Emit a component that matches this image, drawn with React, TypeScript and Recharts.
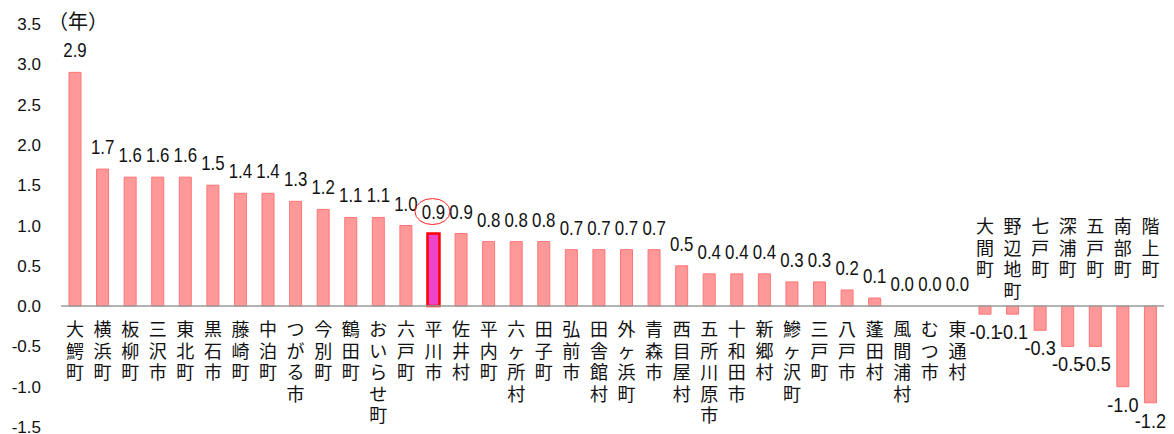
import { Bar, BarChart, Cell, LabelList, ReferenceLine, XAxis, YAxis } from 'recharts'

const towns = [
  '大鰐町', '横浜町', '板柳町', '三沢市', '東北町', '黒石市', '藤崎町', '中泊町', 'つがる市', '今別町',
  '鶴田町', 'おいらせ町', '六戸町', '平川市', '佐井村', '平内町', '六ヶ所村', '田子町', '弘前市', '田舎館村',
  '外ヶ浜町', '青森市', '西目屋村', '五所川原市', '十和田市', '新郷村', '鰺ヶ沢町', '三戸町', '八戸市', '蓬田村',
  '風間浦村', 'むつ市', '東通村', '大間町', '野辺地町', '七戸町', '深浦町', '五戸町', '南部町', '階上町',
]
const years = [
  2.9, 1.7, 1.6, 1.6, 1.6, 1.5, 1.4, 1.4, 1.3, 1.2,
  1.1, 1.1, 1.0, 0.9, 0.9, 0.8, 0.8, 0.8, 0.7, 0.7,
  0.7, 0.7, 0.5, 0.4, 0.4, 0.4, 0.3, 0.3, 0.2, 0.1,
  0.0, 0.0, 0.0, -0.1, -0.1, -0.3, -0.5, -0.5, -1.0, -1.2,
]
const yTicks = [-1.5, -1.0, -0.5, 0.0, 0.5, 1.0, 1.5, 2.0, 2.5, 3.0, 3.5]
const highlight = '平川市'

const data = towns.map((name, i) => ({ name, v: years[i] }))

const numFont = '"Liberation Sans", Arial, sans-serif'
const cjkFont = '"Noto Sans CJK JP", "Noto Sans", sans-serif'

type LblProps = { x?: number; y?: number; width?: number; height?: number; value?: number | string }

// zero line and far end of a bar, whatever sign recharts gives the height
function edges(p: LblProps, v: number) {
  const y = Number(p.y), h = Number(p.height)
  const top = Math.min(y, y + h)
  const bottom = Math.max(y, y + h)
  return v < 0 ? { zero: top, end: bottom } : { zero: bottom, end: top }
}

function ValueLabel(p: LblProps) {
  const v = Number(p.value)
  const cx = Number(p.x) + Number(p.width) / 2
  const e = edges(p, v)
  const base = v < 0 ? e.end + 25 : e.end - 15
  const s = v.toFixed(1)
  return (
    <text x={cx} y={base} textAnchor="middle" fontSize={21} fontFamily={numFont} fill="#111"
      textLength={s.length * 7.8} lengthAdjust="spacingAndGlyphs">
      {s}
    </text>
  )
}

function NameLabel(p: LblProps) {
  const name = String(p.value)
  const v = years[towns.indexOf(name)]
  const cx = Number(p.x) + Number(p.width) / 2
  const e = edges(p, v)
  const start = v < 0 ? e.zero - 73 : e.zero + 30
  return (
    <g>
      {name === highlight && (
        <ellipse cx={cx - 1} cy={e.end - 22} rx={17.5} ry={13} fill="none" stroke="#ff2020" strokeWidth={1} />
      )}
      {Array.from(name).map((c, k) => (
        <text key={k} x={cx} y={start + k * 21.5} textAnchor="middle" fontSize={18} fontFamily={cjkFont} fill="#111">
          {c}
        </text>
      ))}
    </g>
  )
}

export default function App() {
  return (
    <div style={{ position: 'absolute', left: 0, top: 0, width: 1174, height: 434, background: '#fff' }}>
      <div style={{ position: 'absolute', left: 48, top: 6, fontSize: 20, fontFamily: cjkFont, color: '#111' }}>（年）</div>
      <BarChart width={1174} height={434} data={data} margin={{ top: 24, right: 10, left: 6, bottom: 7 }} barSize={12}>
        <XAxis dataKey="name" hide />
        <YAxis
          domain={[-1.5, 3.5]}
          ticks={yTicks}
          interval={0}
          width={55}
          axisLine={false}
          tickLine={false}
          tickMargin={14}
          tickFormatter={(v: number) => v.toFixed(1)}
          tick={{ fill: '#111', fontSize: 17, fontFamily: numFont }}
        />
        <Bar dataKey="v" isAnimationActive={false} minPointSize={0.5}>
          {data.map((d, i) => (
            <Cell
              key={i}
              fill={d.v === 0 ? 'none' : d.name === highlight ? '#ee44cc' : '#ff9999'}
              stroke={d.v === 0 ? 'none' : d.name === highlight ? '#ff0000' : '#ff7575'}
              strokeWidth={d.name === highlight ? 2.5 : 1}
            />
          ))}
          <LabelList dataKey="v" content={(p) => <ValueLabel {...(p as LblProps)} />} />
          <LabelList dataKey="name" content={(p) => <NameLabel {...(p as LblProps)} />} />
        </Bar>
        <ReferenceLine y={0} stroke="#9a9a9a" strokeWidth={1.5} />
      </BarChart>
    </div>
  )
}
